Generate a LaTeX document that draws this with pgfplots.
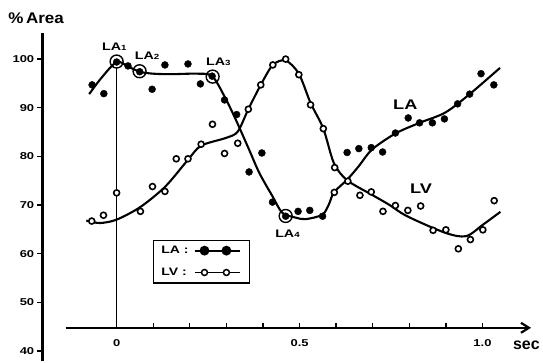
\documentclass[border=0pt]{standalone}
\usepackage{fontspec}
\setmainfont{Liberation Sans}
\newfontfamily\tf[FakeStretch=1.3]{Liberation Sans}
\newfontfamily\af[FakeStretch=1.1]{Liberation Sans}
\usepackage{pgfplots}
\pgfplotsset{compat=1.18}
\usetikzlibrary{arrows.meta}

\begin{document}
\begin{tikzpicture}
\begin{axis}[
  scale only axis, width=500.5pt, height=328.7pt,
  xmin=-0.2030, xmax=1.16076, ymin=37.97, ymax=105.33,
  axis y line*=left, axis x line=none,
  clip=false,
  ytick={40,50,60,70,80,90,100},
  yticklabels={40,50,60,70,80,90,100},
  xtick=\empty,
  tick align=outside, major tick length=5pt,
  every tick/.style={black, line width=1.4pt},
  y axis line style={line width=2.6pt},
  yticklabel style={font=\tf\bfseries\fontsize{10}{10}\selectfont, inner sep=0pt, xshift=-3pt},
  legend style={at={(axis cs:0.0989,62.9)}, anchor=north west, draw=black, line width=1.3pt,
    inner xsep=8pt, inner ysep=6pt, row sep=13pt,
    nodes={inner sep=0pt},
    font=\tf\bfseries\fontsize{10.8}{12}\selectfont,
    /tikz/every odd column/.style={column sep=5pt}},
  legend cell align=left,
  legend plot pos=right,
  legend image code/.code={\draw[mark indices={2,3},#1] plot coordinates {(0pt,0pt) (10pt,0pt) (32pt,0pt) (46pt,0pt)};},
]
% fitted curves
\addplot[black, line width=2.1pt, smooth, forget plot] coordinates {
(-0.075,92.8) (-0.042,96.1) (0,99.4) (0.031,98.5) (0.063,97.4) (0.10,97.0) (0.15,96.9)
(0.22,97.0) (0.261,96.5) (0.295,92.3) (0.326,87.5) (0.362,81.4) (0.390,76.6) (0.426,71.8)
(0.453,68.4) (0.49,67.4) (0.517,67.1) (0.562,68.0) (0.580,70.1) (0.594,72.6) (0.630,75.2)
(0.662,78.0) (0.698,81.4) (0.762,84.7) (0.828,86.9) (0.898,89.0) (0.965,92.8) (1.048,98.2)};
\addplot[black, line width=2.1pt, smooth, forget plot] coordinates {
(-0.083,66.8) (-0.046,66.3) (0,67.0) (0.065,69.6) (0.133,73.8) (0.195,79.3) (0.231,82.2)
(0.299,83.8) (0.331,85.1) (0.36,89.7) (0.394,94.7) (0.427,98.8) (0.462,99.7) (0.498,97.0)
(0.530,91.0) (0.565,85.7) (0.594,78.6) (0.630,75.1) (0.698,72.1) (0.744,70.1) (0.794,67.7)
(0.898,64.3) (0.955,63.6) (1.002,66.0) (1.049,68.6)};
% LA data (filled)
\addplot[only marks, mark=*, mark size=3.5pt, black, forget plot] coordinates {
(-0.067,94.7) (-0.035,92.9) (0,99.4) (0.031,98.6) (0.063,97.4) (0.097,93.8) (0.132,98.8)
(0.195,99.0) (0.229,94.9) (0.261,96.5) (0.295,91.6) (0.328,88.6) (0.362,76.8) (0.397,80.7)
(0.426,70.6) (0.462,67.7) (0.496,68.7) (0.528,68.9) (0.563,67.7) (0.630,80.8) (0.662,81.6)
(0.696,81.8) (0.727,80.9) (0.762,84.8) (0.797,87.9) (0.828,86.9) (0.863,86.9) (0.896,87.7)
(0.932,90.8) (0.965,92.8) (0.996,97.0) (1.031,94.7)};
% LV data (open)
\addplot[only marks, mark=*, mark size=3pt, black, mark options={fill=white, line width=1.6pt}, forget plot] coordinates {
(-0.068,66.7) (-0.036,67.9) (0,72.5) (0.065,68.7) (0.098,73.8) (0.132,72.8) (0.163,79.5)
(0.195,79.5) (0.231,82.5) (0.262,86.6) (0.295,80.6) (0.331,82.7) (0.360,89.7) (0.394,94.7)
(0.427,98.8) (0.462,100.0) (0.498,96.8) (0.530,90.6) (0.565,85.7) (0.596,77.7) (0.595,72.6)
(0.632,74.9) (0.665,72.0) (0.696,72.7) (0.728,68.7) (0.762,69.9) (0.796,68.9) (0.831,69.8)
(0.865,64.8) (0.900,64.9) (0.934,61.0) (0.967,62.9) (1.001,64.9) (1.032,70.9)};
% LA1..LA4 rings
\addplot[only marks, mark=o, mark size=6.5pt, line width=1.4pt, black, forget plot] coordinates {
(0,99.5) (0.0627,97.5) (0.2624,96.4) (0.462,67.75)};
% legend
\addlegendimage{black, line width=1.8pt, mark=*, mark size=4pt}
\addlegendentry{LA :}
\addlegendimage{black, line width=1.5pt, mark=*, mark size=3pt, mark options={fill=white}}
\addlegendentry{LV :}
% axis decorations
\draw[line width=0.9pt] (axis cs:0,44.76) -- (axis cs:0,98.2);
\draw[line width=2.2pt, -{Straight Barb[length=8pt,width=10pt]}] (axis cs:-0.1395,44.76) -- (axis cs:1.1327,44.76);
\draw[line width=1.3pt] (axis cs:0,44.76) -- (axis cs:0,45.85);
\draw[line width=1.3pt] (axis cs:0.1,44.76) -- (axis cs:0.1,45.85);
\draw[line width=1.3pt] (axis cs:0.2,44.76) -- (axis cs:0.2,45.85);
\draw[line width=1.3pt] (axis cs:0.3,44.76) -- (axis cs:0.3,45.85);
\draw[line width=1.3pt] (axis cs:0.4,44.76) -- (axis cs:0.4,45.85);
\draw[line width=1.3pt] (axis cs:0.5,44.76) -- (axis cs:0.5,45.85);
\draw[line width=1.3pt] (axis cs:0.6,44.76) -- (axis cs:0.6,45.85);
\draw[line width=1.3pt] (axis cs:0.7,44.76) -- (axis cs:0.7,45.85);
\draw[line width=1.3pt] (axis cs:0.8,44.76) -- (axis cs:0.8,45.85);
\draw[line width=1.3pt] (axis cs:0.9,44.76) -- (axis cs:0.9,45.85);
\draw[line width=1.3pt] (axis cs:1.0,44.76) -- (axis cs:1.0,45.85);
\node[font=\tf\bfseries\fontsize{10}{10}\selectfont] at (axis cs:0,41.72) {0};
\node[font=\tf\bfseries\fontsize{10}{10}\selectfont] at (axis cs:0.5,41.72) {0.5};
\node[font=\tf\bfseries\fontsize{10}{10}\selectfont] at (axis cs:1.0,41.72) {1.0};
\node[font=\bfseries\fontsize{16}{16}\selectfont] at (axis cs:1.12,41.25) {sec};
\node[font=\af\bfseries\fontsize{15.5}{16}\selectfont] at (axis cs:-0.22,108.4) {\%\,Area};
\node[font=\tf\bfseries\fontsize{11}{12}\selectfont] at (axis cs:-0.006,102.52) {LA{\fontsize{7.5}{8}\selectfont 1}};
\node[font=\tf\bfseries\fontsize{11}{12}\selectfont] at (axis cs:0.083,100.72) {LA{\fontsize{7.5}{8}\selectfont 2}};
\node[font=\tf\bfseries\fontsize{11}{12}\selectfont] at (axis cs:0.278,99.4) {LA{\fontsize{7.5}{8}\selectfont 3}};
\node[font=\tf\bfseries\fontsize{11}{12}\selectfont] at (axis cs:0.467,64.2) {LA{\fontsize{7.5}{8}\selectfont 4}};
\node[font=\tf\bfseries\fontsize{14}{14}\selectfont] at (axis cs:0.789,90.7) {LA};
\node[font=\tf\bfseries\fontsize{14}{14}\selectfont] at (axis cs:0.8324,73.3) {LV};
\path (axis cs:-0.3188,37.97) rectangle (axis cs:1.16076,112.15);
\end{axis}
\end{tikzpicture}
\end{document}
